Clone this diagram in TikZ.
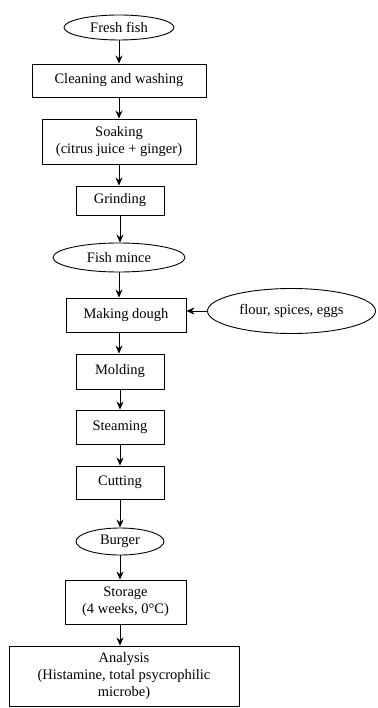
\documentclass[tikz,border=0pt]{standalone}
\usepackage{fontspec}
\setmainfont{Liberation Serif}
\usetikzlibrary{shapes.geometric,arrows.meta}
\begin{document}
\begin{tikzpicture}[x=1pt,y=-1pt,
  every node/.style={font=\fontsize{14.5}{17}\selectfont, inner sep=0pt, align=center},
  box/.style={draw, line width=0.9pt, rectangle},
  oval/.style={draw, line width=0.9pt, ellipse},
  arr/.style={-{Stealth[length=8pt,width=7pt]}, line width=0.9pt}]
\useasboundingbox (0,0) rectangle (377,708);
\node[oval, minimum width=110pt, minimum height=25pt] (fresh) at (119,27.5) {Fresh fish};
\node[box, minimum width=174pt, minimum height=33pt] (clean) at (119,80.5) {Cleaning and washing};
\node[box, minimum width=154pt, minimum height=45pt] (soak) at (119,141.5) {Soaking\\(citrus juice + ginger)};
\node[box, minimum width=88pt, minimum height=29pt] (grind) at (120,200.5) {Grinding};
\node[oval, minimum width=132pt, minimum height=29pt] (mince) at (119,257.5) {Fish mince};
\node[box, minimum width=120pt, minimum height=34pt] (dough) at (126,315) {Making dough};
\node[oval, minimum width=168pt, minimum height=45pt] (flour) at (291.5,311) {flour, spices, eggs};
\node[box, minimum width=88pt, minimum height=35pt] (mold) at (120,371.5) {Molding};
\node[box, minimum width=88pt, minimum height=34pt] (steam) at (120,427) {Steaming};
\node[box, minimum width=88pt, minimum height=33pt] (cut) at (120,482.5) {Cutting};
\node[oval, minimum width=88pt, minimum height=27pt] (burger) at (120,541.5) {Burger};
\node[box, minimum width=121pt, minimum height=44pt] (store) at (125.5,602) {Storage\\(4 weeks, 0°C)};
\node[box, minimum width=230pt, minimum height=60pt] (anal) at (124,676) {Analysis\\(Histamine, total psycrophilic\\microbe)};
\draw[arr] (fresh.south) -- (fresh.south |- clean.north);
\draw[arr] (clean.south) -- (clean.south |- soak.north);
\draw[arr] (soak.south) -- (soak.south |- grind.north);
\draw[arr] (grind.south) -- (grind.south |- mince.north);
\draw[arr] (mince.south) -- (mince.south |- dough.north);
\draw[arr] (flour.west) -- (flour.west -| dough.east);
\draw[arr] (mince.south |- dough.south) -- (mince.south |- mold.north);
\draw[arr] (mold.south) -- (steam.north);
\draw[arr] (steam.south) -- (cut.north);
\draw[arr] (cut.south) -- (burger.north);
\draw[arr] (burger.south) -- (burger.south |- store.north);
\draw[arr] (burger.south |- store.south) -- (burger.south |- anal.north);
\end{tikzpicture}
\end{document}
